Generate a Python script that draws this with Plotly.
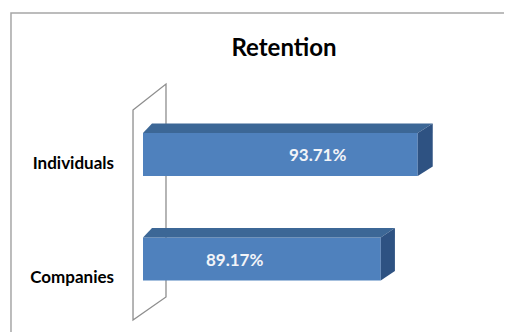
import plotly.graph_objects as go

# Retention rate by customer segment (percent)
categories = ["Companies", "Individuals"]
retention = [89.17, 93.71]
value_labels = ["89.17%", "93.71%"]

# --- layout geometry (pixels) ---
W, H = 506, 334
ML = 118                 # left margin holding the category labels
AXIS_FLOOR = 60.0        # value where the bars start
X0_PX = 143.0            # pixel column of AXIS_FLOOR
PX_PER_PCT = 8.15
ROW0_PX = 259.0          # pixel row of the first category's bar centre
PX_PER_ROW = 104.5
BAR_W = 0.41

# pseudo-3D depth of the bars (slight perspective: deeper on the right)
DEPTH_DY_PX = 9.5
DEPTH_DX_NEAR = 9.0
DEPTH_DX_SLOPE = 6.0 / 275.0

FRONT = "#4F81BD"
TOP = "#3C6796"
SIDE = "#2E5282"

# where the value labels and category labels sit
LABEL_X = [71.2, 81.4]
CAT_LABEL_PX = [277.0, 163.0]

x_range = [AXIS_FLOOR + (ML - X0_PX) / PX_PER_PCT,
           AXIS_FLOOR + (W - X0_PX) / PX_PER_PCT]
y_range = [(ROW0_PX - H) / PX_PER_ROW, ROW0_PX / PX_PER_ROW]


def depth_dx(v):
    px = (v - AXIS_FLOOR) * PX_PER_PCT
    return (DEPTH_DX_NEAR + px * DEPTH_DX_SLOPE) / PX_PER_PCT


DY = DEPTH_DY_PX / PX_PER_ROW


def paper_x(p):
    return (p - ML) / (W - ML)


def paper_y(p):
    return 1 - p / H


def paper_path(points, close):
    d = "M " + " L ".join(f"{paper_x(a):.4f},{paper_y(b):.4f}" for a, b in points)
    return d + (" Z" if close else "")


rows = list(range(len(categories)))

fig = go.Figure()

# front faces of the bars
fig.add_trace(go.Bar(
    y=rows,
    x=[v - AXIS_FLOOR for v in retention],
    base=AXIS_FLOOR,
    orientation="h",
    width=BAR_W,
    marker=dict(color=FRONT, line=dict(width=0)),
    hoverinfo="skip",
))

# top and side faces
for i, v in zip(rows, retention):
    yt = i + BAR_W / 2
    yb = i - BAR_W / 2
    d0 = depth_dx(AXIS_FLOOR)
    d1 = depth_dx(v)
    fig.add_trace(go.Scatter(
        x=[AXIS_FLOOR, v, v + d1, AXIS_FLOOR + d0, AXIS_FLOOR],
        y=[yt, yt, yt + DY, yt + DY, yt],
        mode="lines", fill="toself", fillcolor=TOP,
        line=dict(width=0, color=TOP), hoverinfo="skip",
    ))
    fig.add_trace(go.Scatter(
        x=[v, v + d1, v + d1, v, v],
        y=[yt, yt + DY, yb + DY, yb, yt],
        mode="lines", fill="toself", fillcolor=SIDE,
        line=dict(width=0, color=SIDE), hoverinfo="skip",
    ))

# value labels on the bars
for i, lx, txt in zip(rows, LABEL_X, value_labels):
    fig.add_annotation(
        x=lx, y=i, xref="x", yref="y", text=txt, showarrow=False,
        font=dict(family="Lato", size=17, color="#F2F4F8", weight="bold"),
        xanchor="center", yanchor="middle",
    )

# side wall of the 3-D plot area
wall = [(133, 110), (166, 84), (166, 297), (133, 320)]
fig.add_shape(type="path", path=paper_path(wall, True), xref="paper", yref="paper",
              line=dict(color="#8E8E8E", width=1.3), fillcolor="rgba(0,0,0,0)",
              layer="below")

# chart frame: left and top edges, kept inside the canvas
frame = [(11, H - 2), (11, 13), (W - 2, 13)]
fig.add_shape(type="path", path=paper_path(frame, False), xref="paper", yref="paper",
              line=dict(color="#A6A6A6", width=1.5), layer="below")

fig.update_layout(
    width=W, height=H,
    margin=dict(l=ML, r=0, t=0, b=0),
    paper_bgcolor="white", plot_bgcolor="white",
    showlegend=False,
    title=dict(
        text="Retention", x=284 / W, xanchor="center", xref="container",
        y=1 - 48 / H, yanchor="middle", yref="container",
        font=dict(family="Lato", size=24, color="black", weight="bold"),
    ),
    xaxis=dict(range=x_range, visible=False, fixedrange=True),
    yaxis=dict(
        range=y_range,
        tickvals=[(ROW0_PX - p) / PX_PER_ROW for p in CAT_LABEL_PX],
        ticktext=categories,
        showgrid=False, zeroline=False, showline=False, ticks="",
        ticklabelstandoff=3,
        tickfont=dict(family="Lato", size=17, color="black", weight="bold"),
        fixedrange=True,
    ),
)

fig.write_html("out.html", config={"displayModeBar": False})
